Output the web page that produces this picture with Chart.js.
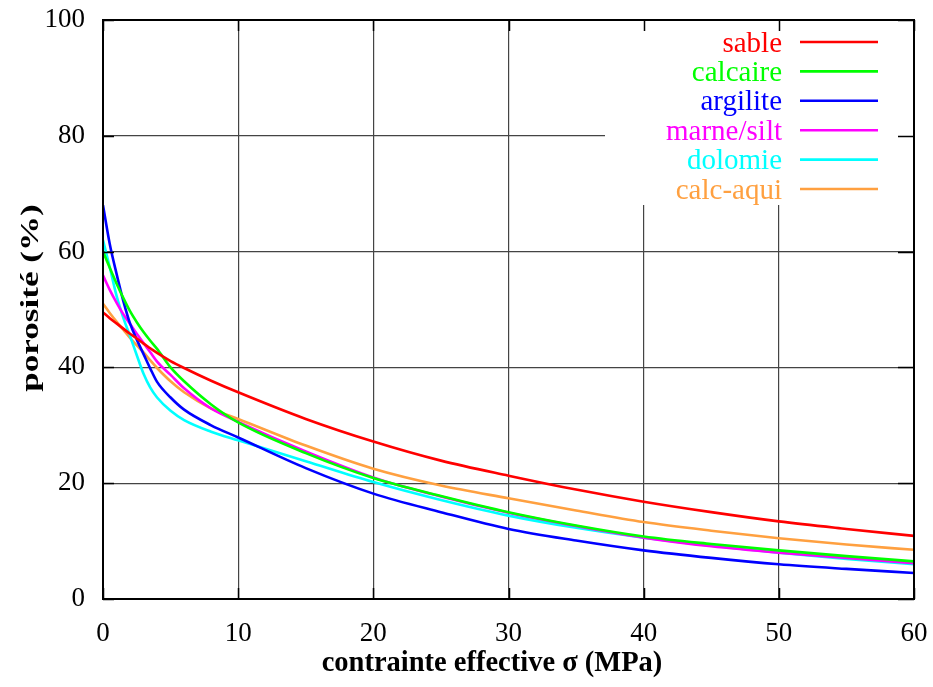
<!DOCTYPE html>
<html>
<head>
<meta charset="utf-8">
<script src="https://cdn.jsdelivr.net/npm/chart.js@4"></script>
<style>
  html, body { margin: 0; padding: 0; background: #fff; }
  canvas { display: block; }
</style>
</head>
<body>
<canvas id="myChart" width="933" height="687"></canvas>
<script>
    // valeurs (porosité en % vs contrainte effective en MPa)
    const sigma    = [0, 0.5, 1, 1.5, 2, 2.5, 3, 3.5, 4, 5, 6, 8, 10, 15, 20, 25, 30, 35, 40, 45, 50, 55, 60];
    const sable    = [49.5, 48.5, 47.6, 46.7, 45.8, 45.0, 44.1, 43.3, 42.5, 41.1, 39.9, 37.7, 35.7, 31.1, 27.2, 23.9, 21.3, 18.9, 16.8, 15.0, 13.4, 12.1, 10.9];
    const calcaire = [60.0, 57.2, 54.5, 52.0, 49.7, 47.8, 46.1, 44.6, 43.2, 40.0, 37.6, 33.6, 30.5, 25.2, 20.9, 17.8, 15.0, 12.7, 10.8, 9.5, 8.4, 7.4, 6.5];
    const argilite = [68.0, 61.3, 56.2, 51.5, 47.6, 44.8, 42.3, 39.8, 37.5, 34.8, 32.7, 30.0, 27.9, 22.6, 18.2, 15.0, 12.1, 10.1, 8.4, 7.1, 6.0, 5.2, 4.5];
    const marne    = [55.9, 53.4, 51.2, 49.2, 47.5, 45.8, 44.2, 42.6, 41.0, 38.7, 36.4, 32.9, 30.6, 25.5, 21.0, 17.7, 14.9, 12.6, 10.6, 9.1, 8.0, 7.1, 6.2];
    const dolomie  = [62.0, 57.3, 52.4, 48.6, 45.4, 42.1, 38.9, 36.5, 34.8, 32.5, 30.9, 28.9, 27.4, 23.8, 20.2, 17.1, 14.4, 12.3, 10.6, 9.2, 8.0, 6.9, 6.0];
    const calcAqui = [51.0, 49.4, 47.9, 46.5, 45.1, 43.8, 42.6, 41.2, 39.9, 37.6, 35.7, 32.9, 31.1, 26.5, 22.5, 19.6, 17.4, 15.3, 13.3, 11.8, 10.5, 9.4, 8.5];

    const labels = ["sable", "calcaire", "argilite", "marne/silt", "dolomie", "calc-aqui"];
    const series = [sable, calcaire, argilite, marne, dolomie, calcAqui];
    const colors = ["#ff0000", "#00ff00", "#0000ff", "#ff00ff", "#00ffff", "#ffa040"];

    const xTicks = [0, 10, 20, 30, 40, 50, 60];
    const yTicks = [0, 20, 40, 60, 80, 100];

    const FONT = "'Liberation Serif', 'Times New Roman', serif";

    const datasets = series.map((vals, i) => ({
        label: labels[i],
        data: vals.map((v, k) => ({x: sigma[k], y: v})),
        borderColor: colors[i],
        borderWidth: 2.6,
        pointRadius: 0,
        fill: false,
        cubicInterpolationMode: 'monotone'
    }));

    // cadre, petites graduations intérieures, légende et titres façon gnuplot
    const frame = {
        id: 'frame',
        beforeDatasetsDraw(chart) {
            const a = chart.chartArea;
            const ctx = chart.ctx;
            ctx.save();
            ctx.fillStyle = '#fff';
            ctx.fillRect(605, a.top, a.right - 605, 205 - a.top);
            ctx.restore();
        },
        afterDatasetsDraw(chart) {
            const a = chart.chartArea;
            const ctx = chart.ctx;
            const sx = chart.scales.x, sy = chart.scales.y;
            ctx.save();
            ctx.strokeStyle = '#000';
            ctx.lineWidth = 1.5;
            ctx.beginPath();
            xTicks.forEach(t => {
                const px = Math.round(sx.getPixelForValue(t)) + 0.5;
                ctx.moveTo(px, a.top); ctx.lineTo(px, a.top + 11);
                ctx.moveTo(px, a.bottom); ctx.lineTo(px, a.bottom - 11);
            });
            yTicks.forEach(t => {
                const py = Math.round(sy.getPixelForValue(t)) + 0.5;
                ctx.moveTo(a.left, py); ctx.lineTo(a.left + 11, py);
                ctx.moveTo(a.right, py); ctx.lineTo(a.right - 16, py);
            });
            ctx.stroke();
            ctx.lineWidth = 2;
            ctx.strokeRect(a.left, a.top, a.right - a.left, a.bottom - a.top);

            // légende
            ctx.font = "29px " + FONT;
            ctx.textAlign = 'right';
            ctx.textBaseline = 'middle';
            labels.forEach((lab, i) => {
                const yy = a.top + 22 + i * 29.4;
                ctx.fillStyle = colors[i];
                ctx.fillText(lab, a.right - 132, yy + 2);
                ctx.strokeStyle = colors[i];
                ctx.lineWidth = 2.6;
                ctx.beginPath();
                ctx.moveTo(a.right - 114, yy);
                ctx.lineTo(a.right - 36, yy);
                ctx.stroke();
            });

            // titre de l'axe X
            ctx.fillStyle = '#000';
            ctx.textAlign = 'center';
            ctx.font = "bold 28.5px " + FONT;
            ctx.fillText('contrainte effective σ (MPa)', 492, 664);

            // titre de l'axe Y (étiré comme dans l'original)
            ctx.translate(31, 298);
            ctx.rotate(-Math.PI / 2);
            ctx.scale(1.3, 0.92);
            ctx.font = "bold 27px " + FONT;
            ctx.fillText('porosité (%)', 0, 1);
            ctx.restore();
        }
    };

    const ctx = document.getElementById('myChart').getContext('2d');

    const chart = new Chart(ctx, {
        type: 'line',
        data: { datasets: datasets },
        options: {
            responsive: false,
            animation: false,
            layout: { padding: { top: 20, right: 19, bottom: 0, left: 0 } },
            plugins: {
                legend: { display: false },
                tooltip: { enabled: false }
            },
            scales: {
                x: {
                    type: 'linear',
                    min: 0, max: 60,
                    afterBuildTicks: s => { s.ticks = xTicks.map(v => ({value: v})); },
                    afterFit: s => { s.height = 88; s.paddingLeft = 0; s.paddingRight = 0; },
                    grid: { color: '#444', lineWidth: 1.2, drawTicks: false },
                    border: { display: false },
                    ticks: { color: '#000', padding: 19, font: { family: FONT, size: 27 } },
                    title: { display: false }
                },
                y: {
                    min: 0, max: 100,
                    afterBuildTicks: s => { s.ticks = yTicks.map(v => ({value: v})); },
                    afterFit: s => { s.width = 103; s.paddingTop = 0; s.paddingBottom = 0; },
                    grid: { color: '#444', lineWidth: 1.2, drawTicks: false },
                    border: { display: false },
                    ticks: { color: '#000', padding: 18, font: { family: FONT, size: 27 } },
                    title: { display: false }
                }
            }
        },
        plugins: [frame]
    });
</script>
</body>
</html>
